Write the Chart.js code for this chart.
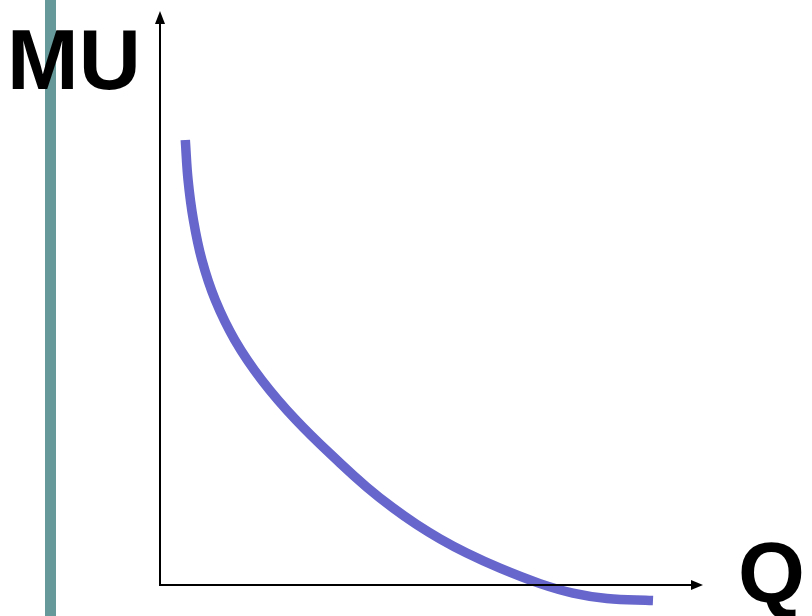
<!DOCTYPE html>
<html>
<head>
<meta charset="utf-8">
<script src="https://cdn.jsdelivr.net/npm/chart.js@4"></script>
<style>
  html, body { margin: 0; padding: 0; background: #ffffff; }
  #wrap { position: relative; width: 812px; height: 616px; overflow: hidden; background: #ffffff; }
  #bar { position: absolute; left: 45px; top: 0; width: 11px; height: 616px; background: #669999; z-index: 0; }
  #c { position: absolute; left: 0; top: 0; z-index: 1; }
  .lbl { position: absolute; z-index: 2; font-family: "Liberation Sans", Arial, sans-serif; font-weight: bold;
         font-size: 86px; line-height: 86px; color: #000; white-space: nowrap; }
  #mu { left: 7px; top: 16px; }
  #q { left: 738px; top: 529px; }
</style>
</head>
<body>
<div id="wrap">
  <div id="bar"></div>
  <canvas id="c" width="812" height="616"></canvas>
  <div class="lbl" id="mu">MU</div>
  <div class="lbl" id="q">Q</div>
</div>
<script>
// Quantity (Q) and marginal utility (MU), arbitrary units
const quantity = [4.66, 5.17, 6.15, 7.72, 10.18, 13.78, 18.75, 25.05, 33.15, 38.07, 42.91, 47.27, 51.57, 56.48, 62.62, 69.98, 76.06, 82.32, 90.79];
const marginalUtility = [77.53, 70.56, 63.59, 56.62, 49.65, 42.68, 35.71, 28.75, 21.25, 17.07, 13.43, 10.54, 8.05, 5.57, 2.93, 0.24, -1.41, -2.35, -2.70];
const xRange = [0, 100];
const yRange = [-5, 100];

const points = quantity.map((q, i) => ({ x: q, y: marginalUtility[i] }));

const axesPlugin = {
  id: 'arrowAxes',
  afterDatasetsDraw(chart) {
    const ctx = chart.ctx;
    const xs = chart.scales.x, ys = chart.scales.y;
    const x0 = xs.getPixelForValue(0);
    const y0 = ys.getPixelForValue(0);
    const xEnd = xs.getPixelForValue(xRange[1]);
    const yEnd = ys.getPixelForValue(yRange[1]);
    ctx.save();
    ctx.strokeStyle = '#000';
    ctx.fillStyle = '#000';
    ctx.lineWidth = 2;
    ctx.beginPath();
    ctx.moveTo(x0, y0 + 1);
    ctx.lineTo(x0, yEnd + 10);
    ctx.moveTo(x0 - 1, y0);
    ctx.lineTo(xEnd - 10, y0);
    ctx.stroke();
    // up arrow
    ctx.beginPath();
    ctx.moveTo(x0, yEnd);
    ctx.lineTo(x0 - 5, yEnd + 13);
    ctx.lineTo(x0 + 5, yEnd + 13);
    ctx.closePath();
    ctx.fill();
    // right arrow
    ctx.beginPath();
    ctx.moveTo(xEnd, y0);
    ctx.lineTo(xEnd - 12, y0 - 5);
    ctx.lineTo(xEnd - 12, y0 + 5);
    ctx.closePath();
    ctx.fill();
    ctx.restore();
  }
};

new Chart(document.getElementById('c'), {
  type: 'scatter',
  data: {
    datasets: [{
      label: 'MU',
      data: points,
      showLine: true,
      borderColor: '#6666cc',
      borderWidth: 9.5,
      borderCapStyle: 'butt',
      tension: 0.4,
      pointRadius: 0,
      pointHoverRadius: 0,
      fill: false,
      clip: false
    }]
  },
  options: {
    responsive: false,
    animation: false,
    events: [],
    layout: { padding: { left: 160, right: 109, top: 11, bottom: 2.3 } },
    plugins: { legend: { display: false }, tooltip: { enabled: false }, title: { display: false } },
    scales: {
      x: { type: 'linear', min: xRange[0], max: xRange[1], display: false },
      y: { type: 'linear', min: yRange[0], max: yRange[1], display: false }
    }
  },
  plugins: [axesPlugin]
});
</script>
</body>
</html>
